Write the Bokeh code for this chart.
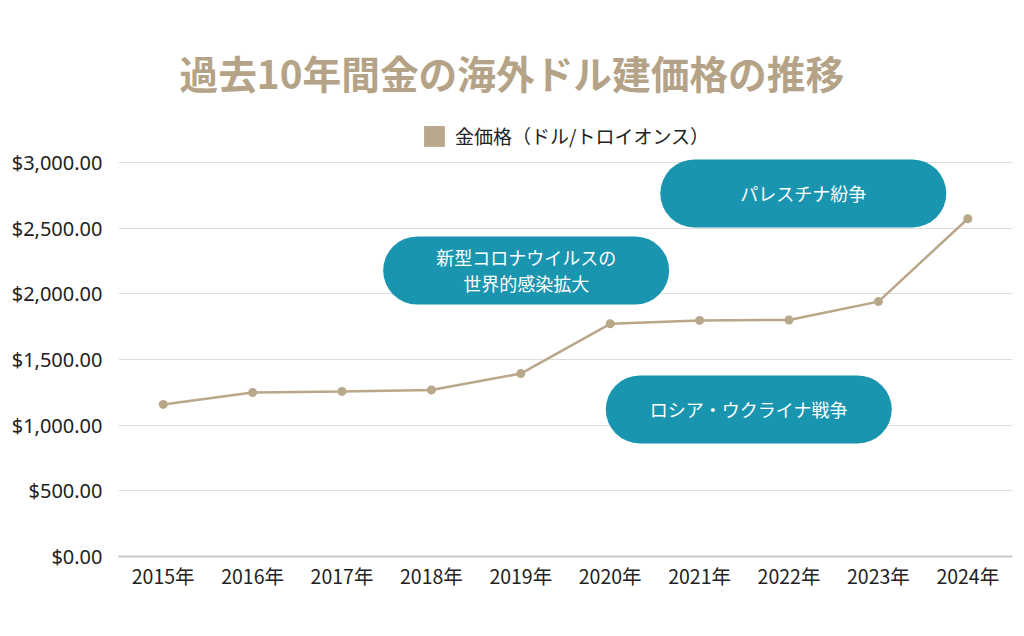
from bokeh.plotting import figure
from bokeh.models import (Legend, LegendItem, NumeralTickFormatter, FixedTicker,
                          Range1d, ColumnDataSource)
from bokeh.embed import file_html
from bokeh.resources import INLINE

# ---- data ----
years = ["2015年", "2016年", "2017年", "2018年", "2019年",
         "2020年", "2021年", "2022年", "2023年", "2024年"]
prices = [1158, 1249, 1257, 1268, 1393, 1772, 1798, 1801, 1941, 2572]
y_ticks = [0, 500, 1000, 1500, 2000, 2500, 3000]

ann_text = ["新型コロナウイルスの\n世界的感染拡大", "パレスチナ紛争", "ロシア・ウクライナ戦争"]
ann_x = [4.06, 7.16, 6.55]
ann_y = [2178, 2765, 1120]

title_text = "過去10年間金の海外ドル建価格の推移"
legend_label = "金価格（ドル/トロイオンス）"

GOLD = "#b8a789"
TEAL = "#1995b0"
JP = "Noto Sans CJK JP"

idx = list(range(len(years)))

p = figure(width=1020, height=630, output_backend="svg", toolbar_location=None,
           x_range=Range1d(-0.5, len(years) - 0.5), y_range=Range1d(0, 3381),
           min_border_left=118, min_border_right=8, min_border_top=112,
           min_border_bottom=74)
p.outline_line_color = None
p.background_fill_color = "white"
p.border_fill_color = "white"

# title
p.title.text = title_text
p.title.align = "left"
p.title.offset = 61
p.title.text_font = JP
p.title.text_font_size = "38.7px"
p.title.text_font_style = "bold"
p.title.text_color = "#b5a387"
p.title.standoff = 26

# axes
p.xaxis.ticker = FixedTicker(ticks=idx)
p.xaxis.major_label_overrides = {i: y for i, y in enumerate(years)}
p.xaxis.major_label_text_font = JP
p.xaxis.major_label_text_font_size = "19.5px"
p.xaxis.major_label_text_color = "#222222"
p.xaxis.major_tick_line_color = None
p.xaxis.minor_tick_line_color = None
p.xaxis.axis_line_color = "#c8c8c8"
p.xaxis.axis_line_width = 2
p.xaxis.major_label_standoff = -2

p.yaxis.ticker = FixedTicker(ticks=y_ticks)
p.yaxis.formatter = NumeralTickFormatter(format="$0,0.00")
p.yaxis.major_label_text_font = "Noto Sans"
p.yaxis.major_label_text_font_size = "20px"
p.yaxis.major_label_text_color = "#222222"
p.yaxis.axis_line_color = None
p.yaxis.major_tick_line_color = None
p.yaxis.minor_tick_line_color = None
p.yaxis.major_label_standoff = 10

p.xgrid.grid_line_color = None
p.ygrid.grid_line_color = "#dedede"
p.ygrid.grid_line_width = 1

# annotation pills
asrc = ColumnDataSource(dict(x=ann_x, y=ann_y, t=ann_text))
p.rect(x="x", y="y", width=286, height=68, width_units="screen", height_units="screen",
       border_radius=34, fill_color=TEAL, line_color=None, source=asrc)
p.text(x="x", y="y", text="t", text_align="center", text_baseline="middle",
       text_color="white", text_font_size="18px", text_line_height=1.0,
       text_font={"value": JP}, source=asrc)

# line
src = ColumnDataSource(dict(x=idx, y=prices))
p.line(x="x", y="y", line_color=GOLD, line_width=2.5, source=src)
p.scatter(x="x", y="y", size=9, fill_color=GOLD, line_color=None, source=src)

# legend (zero-size swatch renderer)
leg_r = p.quad(left=[0], right=[0], top=[0], bottom=[0], fill_color=GOLD, line_color=None)
legend = Legend(items=[LegendItem(label=legend_label, renderers=[leg_r])],
                location="top_center", orientation="horizontal",
                border_line_alpha=0, background_fill_alpha=0,
                margin=10, padding=0, glyph_height=26, glyph_width=26,
                label_standoff=8, label_text_font=JP, label_text_font_size="19px",
                label_text_color="#222222")
p.add_layout(legend)

open("out.html", "w").write(file_html(p, INLINE))
